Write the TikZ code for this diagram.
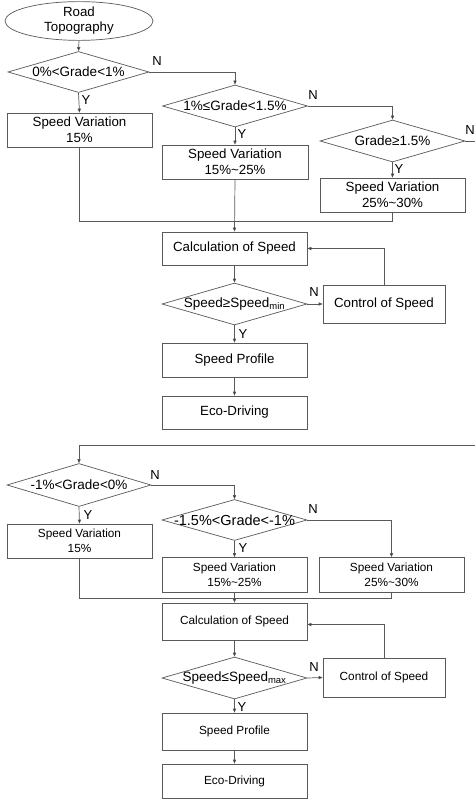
\documentclass[tikz,border=0pt]{standalone}
\usepackage{fontspec}
\setmainfont{Liberation Sans}
\usetikzlibrary{shapes.geometric,arrows.meta}
\begin{document}
\begin{tikzpicture}[x=1pt,y=-1pt,
  line/.style={draw=black!65,line width=0.7pt},
  arr/.style={line,-{Triangle[length=4pt,width=3.2pt,fill=black]}},
  bigtxt/.style={font=\fontsize{13.3}{16}\selectfont},
  smalltxt/.style={font=\fontsize{11.8}{14.5}\selectfont},
  boxA/.style={rectangle,draw=black!65,line width=0.7pt,inner sep=0pt,align=center,bigtxt},
  boxB/.style={rectangle,draw=black!65,line width=0.7pt,inner sep=0pt,align=center,smalltxt},
  dia/.style={diamond,draw=black!65,line width=0.7pt,inner sep=0pt,minimum width=145pt,minimum height=42pt,font=\fontsize{13.5}{16}\selectfont},
  lab/.style={font=\fontsize{13}{15}\selectfont,inner sep=0pt}
]
\useasboundingbox (0,0) rectangle (475,799);
\fill[white] (0,0) rectangle (475,799);

% ---------- top ----------
\node[ellipse,draw=black!65,line width=0.7pt,inner sep=0pt,minimum width=148pt,minimum height=38pt,align=center,bigtxt] (rt) at (79,21) {Road\\[-1pt]Topography};
\node[dia,minimum width=141pt,minimum height=41pt] (d1) at (78.5,72) {\makebox[0pt]{0\%<Grade<1\%}};
\node[boxA,minimum width=145pt,minimum height=34pt] (b1) at (79.5,130) {Speed Variation\\15\%};
\node[dia] (d2) at (235,106) {\makebox[0pt]{1\%≤Grade<1.5\%}};
\node[boxA,minimum width=146pt,minimum height=34pt] (b2) at (235,162) {Speed Variation\\15\%\textasciitilde25\%};
\node[dia] (d3) at (392.5,141) {\makebox[0pt]{Grade≥1.5\%}};
\node[boxA,minimum width=145pt,minimum height=34pt] (b3) at (392.5,195) {Speed Variation\\25\%\textasciitilde30\%};
\node[boxA,minimum width=145pt,minimum height=33pt] (calc) at (234.5,248.5) {Calculation of Speed};
\node[dia] (d4) at (234.5,304) {\makebox[0pt]{Speed≥Speed\textsubscript{min}}};
\node[boxA,minimum width=122pt,minimum height=38pt] (ctrl) at (384,304) {Control of Speed};
\node[boxA,minimum width=145pt,minimum height=34pt] (sp) at (234.5,360) {Speed Profile};
\node[boxA,minimum width=145pt,minimum height=33pt] (eco) at (234.5,412.5) {Eco-Driving};

\coordinate (j0) at (235,221);
\coordinate (e3) at (475,141);

\draw[arr] (rt.south) -- (d1.north);
\draw[arr] (d1.east) -| (d2.north);
\draw[arr] (d1.south) -- (b1.north);
\draw[arr] (d2.east) -| (d3.north);
\draw[arr] (d2.south) -- (b2.north);
\draw[line] (d3.east) -- (e3);
\draw[arr] (d3.south) -- (b3.north);
\draw[line] (b1.south) |- (j0);
\draw[line] (b3.south) |- (j0);
\draw[arr] (b2.south) -- (calc.north);
\draw[arr] (calc.south) -- (d4.north);
\draw[arr] (d4.east) -- (ctrl.west);
\draw[arr] (ctrl.north) |- (calc.east);
\draw[arr] (d4.south) -- (sp.north);
\draw[arr] (sp.south) -- (eco.north);

\node[lab] (n1) at (157,61) {N};
\node[lab] (y1) at (86,100) {Y};
\node[lab] (n2) at (313,95) {N};
\node[lab] (y2) at (242,134) {Y};
\node[lab] (n3) at (470,130) {N};
\node[lab] (y3) at (399,169) {Y};
\node[lab] (n4) at (314,292) {N};
\node[lab] (y4) at (243,334) {Y};

% ---------- bottom ----------
\coordinate (s0) at (475,445);
\node[dia,minimum width=144pt,minimum height=43pt] (d5) at (79,485) {\makebox[0pt]{-1\%<Grade<0\%}};
\node[boxB,minimum width=145pt,minimum height=34pt] (b4) at (79.5,541) {Speed Variation\\15\%};
\node[dia,minimum width=145pt,minimum height=41pt,font=\fontsize{14.5}{16}\selectfont] (d6) at (234.5,520) {\makebox[0pt]{-1.5\%<Grade<-1\%}};
\node[boxB,minimum width=145pt,minimum height=35pt] (b5) at (234.5,575) {Speed Variation\\15\%\textasciitilde25\%};
\node[boxB,minimum width=145pt,minimum height=35pt] (b6) at (391.5,575) {Speed Variation\\25\%\textasciitilde30\%};
\node[boxB,minimum width=145pt,minimum height=37pt] (calc2) at (234.5,621.5) {Calculation of Speed};
\node[dia] (d7) at (234.5,678) {\makebox[0pt]{Speed≤Speed\textsubscript{max}}};
\node[boxB,minimum width=122pt,minimum height=39pt] (ctrl2) at (384,677.5) {Control of Speed};
\node[boxB,minimum width=145pt,minimum height=37pt] (sp2) at (234.5,731.5) {Speed Profile};
\node[boxB,minimum width=145pt,minimum height=34pt] (eco2) at (234.5,781) {Eco-Driving};

\coordinate (k0) at (235,598);
\coordinate (t1) at (79,445);

\draw[arr] (s0) -- (t1) -- (d5.north);
\draw[arr] (d5.east) -| (d6.north);
\draw[arr] (d5.south) -- (b4.north);
\draw[arr] (d6.east) -| (b6.north);
\draw[arr] (d6.south) -- (b5.north);
\draw[line] (b4.south) |- (k0);
\draw[line] (b6.south) |- (k0);
\draw[arr] (b5.south) -- (calc2.north);
\draw[arr] (calc2.south) -- (d7.north);
\draw[arr] (d7.east) -- (ctrl2.west);
\draw[arr] (ctrl2.north) |- ([yshift=-3pt]calc2.east);
\draw[arr] (d7.south) -- (sp2.north);
\draw[arr] (sp2.south) -- (eco2.north);

\node[lab] (n5) at (155,475) {N};
\node[lab] (y5) at (88,515) {Y};
\node[lab] (n6) at (313,509) {N};
\node[lab] (y6) at (243,548) {Y};
\node[lab] (n7) at (314,667) {N};
\node[lab] (y7) at (242,707) {Y};
\end{tikzpicture}
\end{document}
